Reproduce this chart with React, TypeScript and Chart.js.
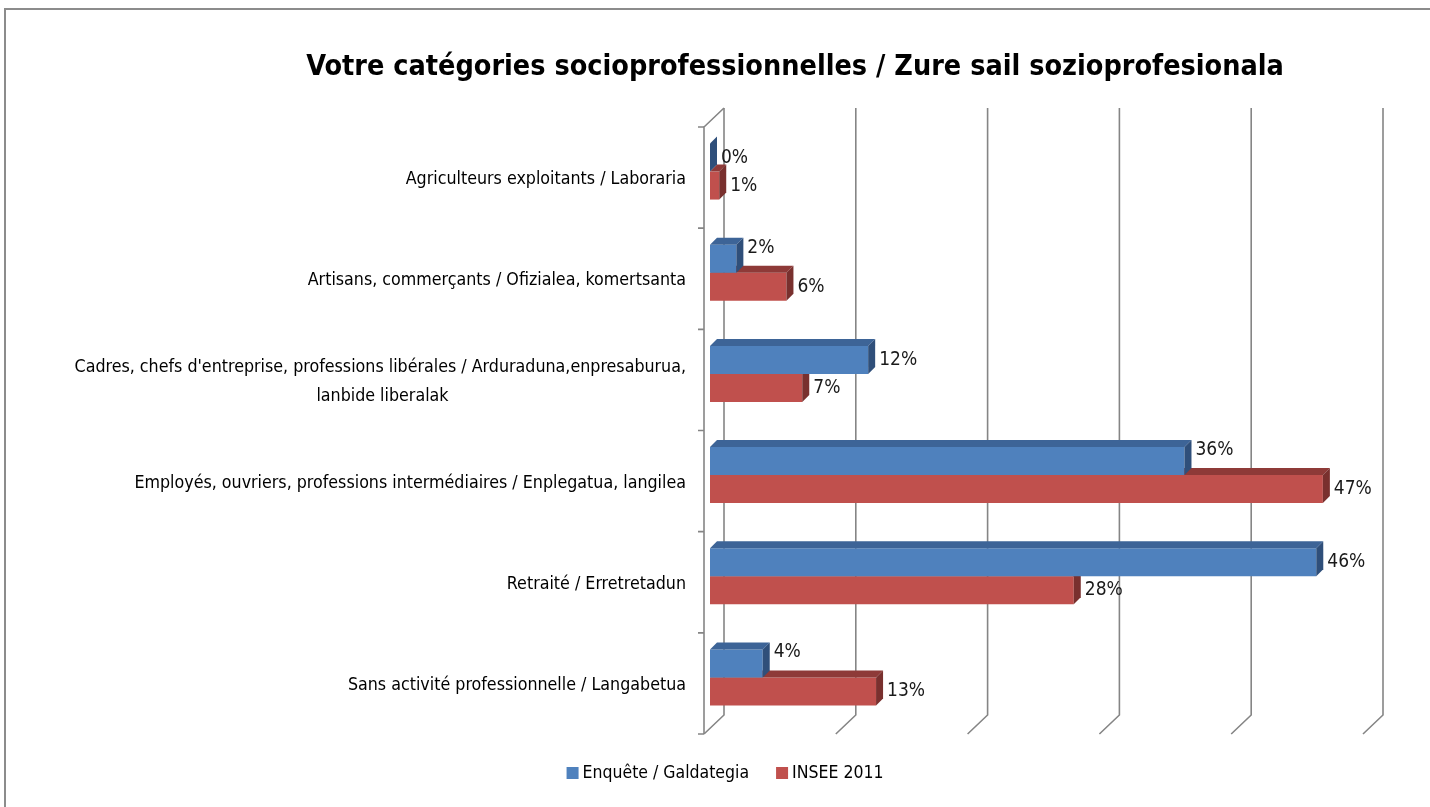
import React, { useEffect, useRef } from "react";
import { Chart, registerables } from "chart.js";

Chart.register(...registerables);

// ---------- data ----------
const categories = [
  "Agriculteurs exploitants / Laboraria",
  "Artisans, commerçants / Ofizialea, komertsanta",
  "Cadres, chefs d'entreprise, professions libérales / Arduraduna,enpresaburua,\nlanbide liberalak",
  "Employés, ouvriers, professions intermédiaires / Enplegatua, langilea",
  "Retraité / Erretretadun",
  "Sans activité professionnelle / Langabetua",
];
const seriesNames = ["Enquête / Galdategia", "INSEE 2011"];
const enqueteValues = [0, 2, 12, 36, 46, 4];
const inseeValues = [0.7, 5.8, 7.0, 46.5, 27.6, 12.6];
const xTicks = [0, 10, 20, 30, 40, 50];
const titleText = "Votre catégories socioprofessionnelles / Zure sail sozioprofesionala";

// ---------- styles ----------
const FONT = "'Liberation Sans Narrow', 'Arial Narrow', 'DejaVu Sans Condensed', sans-serif";
const FRONT_COLORS = ["#4F81BD", "#C0504D"];
const TOP_COLORS = ["#3D6497", "#8E3A38"];
const SIDE_COLORS = ["#2F4F7A", "#79302E"];
const DEPTH = 7;
const BACK = { dx: 14, dy: -13 };
const FRONT = { dx: -6, dy: 6 };
const GRID_COLOR = "#858585";
const TICK_FONT_SIZE = 17.7;

function centerLines(label: string): string | string[] {
  const lines = label.split("\n");
  if (lines.length === 1) return label;
  const c = document.createElement("canvas").getContext("2d")!;
  c.font = `${TICK_FONT_SIZE}px ${FONT}`;
  const widths = lines.map((l) => c.measureText(l).width);
  const maxW = Math.max(...widths);
  const sp = c.measureText(" ").width;
  return lines.map((l, i) => l + " ".repeat(Math.max(0, Math.round((maxW - widths[i]) / 2 / sp))));
}

const wallPlugin = {
  id: "wall3d",
  beforeDatasetsDraw(chart: any) {
    const { ctx, chartArea: a, scales } = chart;
    const x = scales.x;
    const y = scales.y;
    ctx.save();
    ctx.strokeStyle = GRID_COLOR;
    ctx.lineWidth = 1.6;
    xTicks.forEach((v) => {
      const px = x.getPixelForValue(v);
      ctx.beginPath();
      ctx.moveTo(px + BACK.dx, a.top + BACK.dy);
      ctx.lineTo(px + BACK.dx, a.bottom + BACK.dy);
      ctx.lineTo(px + FRONT.dx, a.bottom + FRONT.dy);
      ctx.stroke();
    });
    const x0 = x.getPixelForValue(0);
    ctx.beginPath();
    ctx.moveTo(x0 + BACK.dx, a.top + BACK.dy);
    ctx.lineTo(x0 + FRONT.dx, a.top + FRONT.dy);
    ctx.lineTo(x0 + FRONT.dx, a.bottom + FRONT.dy);
    ctx.stroke();
    const n = categories.length;
    const step = (a.bottom - a.top) / n;
    ctx.beginPath();
    for (let i = 0; i <= n; i++) {
      const py = (i < n ? y.getPixelForValue(i) - step / 2 : a.bottom) + FRONT.dy;
      ctx.moveTo(x0 + FRONT.dx - 6, py);
      ctx.lineTo(x0 + FRONT.dx, py);
    }
    ctx.stroke();
    ctx.restore();
  },
  afterDatasetDraw(chart: any, args: any) {
    const { ctx } = chart;
    const di = args.index;
    const meta = args.meta;
    ctx.save();
    meta.data.forEach((el: any) => {
      const { x, y, base, height } = el.getProps(["x", "y", "base", "height"], true);
      const top = y - height / 2;
      const bottom = y + height / 2;
      ctx.fillStyle = TOP_COLORS[di];
      ctx.beginPath();
      ctx.moveTo(base, top);
      ctx.lineTo(x, top);
      ctx.lineTo(x + DEPTH, top - DEPTH);
      ctx.lineTo(base + DEPTH, top - DEPTH);
      ctx.closePath();
      ctx.fill();
      ctx.fillStyle = SIDE_COLORS[di];
      ctx.beginPath();
      ctx.moveTo(x, top);
      ctx.lineTo(x + DEPTH, top - DEPTH);
      ctx.lineTo(x + DEPTH, bottom - DEPTH);
      ctx.lineTo(x, bottom);
      ctx.closePath();
      ctx.fill();
    });
    ctx.restore();
  },
  afterDatasetsDraw(chart: any) {
    const { ctx } = chart;
    const all = [enqueteValues, inseeValues];
    ctx.save();
    ctx.font = `19px ${FONT}`;
    ctx.fillStyle = "#1a1a1a";
    ctx.textAlign = "left";
    ctx.textBaseline = "middle";
    all.forEach((vals, di) => {
      const meta = chart.getDatasetMeta(di);
      const other = all[1 - di];
      meta.data.forEach((el: any, j: number) => {
        const { x, y } = el.getProps(["x", "y"], true);
        const shift = di === 0 && other[j] > vals[j] + 1 ? -11 : 0;
        ctx.fillText(`${Math.round(vals[j])}%`, x + DEPTH + 4, y + shift);
      });
    });
    ctx.restore();
  },
  afterDraw(chart: any) {
    const { ctx } = chart;
    ctx.save();
    // title
    ctx.font = `bold 28.5px ${FONT}`;
    ctx.fillStyle = "#000";
    ctx.textAlign = "center";
    ctx.textBaseline = "alphabetic";
    ctx.fillText(titleText, 795, 75);
    // legend
    ctx.font = `17.5px ${FONT}`;
    ctx.textBaseline = "middle";
    ctx.textAlign = "left";
    const box = 12;
    const gap = 4;
    const itemGap = 27;
    const widths = seriesNames.map((s) => ctx.measureText(s).width);
    const total = widths.reduce((s, w) => s + box + gap + w, 0) + itemGap * (seriesNames.length - 1);
    let cx = 725 - total / 2;
    const cy = 773;
    seriesNames.forEach((s, i) => {
      ctx.fillStyle = FRONT_COLORS[i];
      ctx.fillRect(cx, cy - box / 2, box, box);
      ctx.fillStyle = "#000";
      ctx.fillText(s, cx + box + gap, cy);
      cx += box + gap + widths[i] + itemGap;
    });
    ctx.restore();
  },
};

export default function App() {
  const ref = useRef<HTMLCanvasElement>(null);
  useEffect(() => {
    if (!ref.current) return;
    const chart = new Chart(ref.current, {
      type: "bar",
      data: {
        labels: categories.map(centerLines),
        datasets: [
          { label: seriesNames[0], data: enqueteValues, backgroundColor: FRONT_COLORS[0] },
          { label: seriesNames[1], data: inseeValues, backgroundColor: FRONT_COLORS[1] },
        ],
      },
      options: {
        responsive: false,
        animation: false,
        devicePixelRatio: 1,
        indexAxis: "y",
        layout: { padding: { left: 40, right: 61, top: 121, bottom: 79 } },
        datasets: { bar: { categoryPercentage: 0.553, barPercentage: 1 } },
        plugins: {
          legend: { display: false },
          tooltip: { enabled: false },
          title: { display: false },
        },
        scales: {
          x: { display: false, min: 0, max: 50, ticks: { stepSize: 10 } },
          y: {
            grid: { display: false, drawTicks: false },
            border: { display: false },
            ticks: {
              color: "#000",
              autoSkip: false,
              padding: 24,
              labelOffset: 8,
              font: { family: FONT, size: TICK_FONT_SIZE, lineHeight: 1.6 },
            },
            afterFit: (s: any) => {
              s.width = 670;
            },
          },
        },
      } as any,
      plugins: [wallPlugin],
    });
    return () => chart.destroy();
  }, []);

  return (
    <div style={{ position: "fixed", left: 0, top: 0, width: 1430, height: 807, overflow: "hidden", background: "#fff" }}>
      <div
        style={{
          position: "absolute",
          left: 4,
          top: 8,
          width: 1500,
          height: 900,
          borderTop: "2px solid #8c8c8c",
          borderLeft: "2px solid #8c8c8c",
        }}
      />
      <canvas ref={ref} width={1430} height={807} style={{ position: "absolute", left: 0, top: 0 }} />
    </div>
  );
}
